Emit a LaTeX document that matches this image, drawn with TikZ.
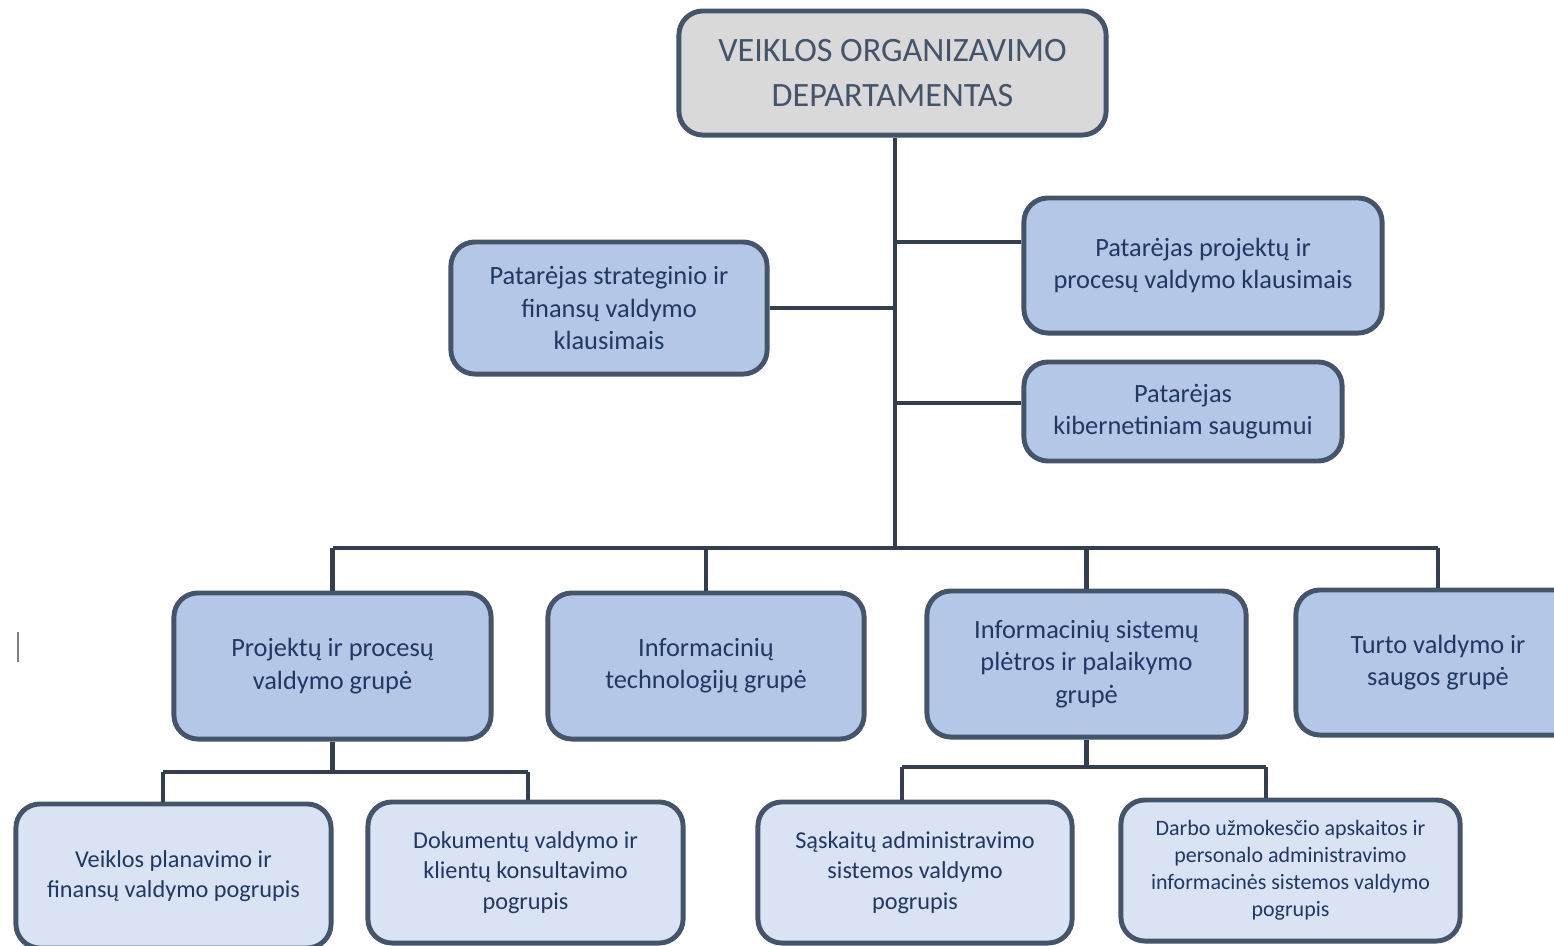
\documentclass[tikz,border=0pt]{standalone}
\usepackage{fontspec}
\setmainfont{Carlito}
\usepackage{tikz}

\definecolor{edgegray}{HTML}{44546A}
\definecolor{linedark}{HTML}{333F50}
\definecolor{topfill}{HTML}{D9D9D9}
\definecolor{grpfill}{HTML}{B4C7E7}
\definecolor{subfill}{HTML}{DAE3F3}
\definecolor{navytext}{HTML}{203864}

\begin{document}
\begin{tikzpicture}[x=0.01cm,y=-0.01cm,
	box/.style={draw=edgegray,line width=1.4pt,rounded corners=0.24cm,inner sep=0pt,align=center},
	topbox/.style={box,fill=topfill,text=edgegray,font=\fontsize{9.7}{12.8}\selectfont},
	grpbox/.style={box,fill=grpfill,text=navytext,font=\fontsize{7.5}{9.2}\selectfont},
	subbox/.style={box,fill=subfill,text=navytext,font=\fontsize{6.9}{8.6}\selectfont},
	wire/.style={draw=linedark,line width=1.4pt}]
	\clip (0,0) rectangle (1554,945);
	% department
	\node[topbox,minimum width=4.27cm,minimum height=1.24cm] (dept) at (892.5,73) {VEIKLOS ORGANIZAVIMO\\DEPARTAMENTAS};
	% advisers
	\node[grpbox,minimum width=3.16cm,minimum height=1.32cm] (advfin) at (609,308) {Patarėjas strateginio ir\\finansų valdymo\\klausimais};
	\node[grpbox,minimum width=3.58cm,minimum height=1.35cm] (advproj) at (1203,265.5) {Patarėjas projektų ir\\procesų valdymo klausimais};
	\node[grpbox,minimum width=3.18cm,minimum height=0.99cm] (advcyb) at (1183,411.5) {Patarėjas\\kibernetiniam saugumui};
	% groups
	\node[grpbox,minimum width=3.17cm,minimum height=1.46cm] (grpproj) at (332.5,666) {Projektų ir procesų\\valdymo grupė};
	\node[grpbox,minimum width=3.16cm,minimum height=1.46cm] (grpit) at (706,666) {Informacinių\\technologijų grupė};
	\node[grpbox,minimum width=3.19cm,minimum height=1.46cm] (grpis) at (1086.5,664) {Informacinių sistemų\\plėtros ir palaikymo\\grupė};
	\node[grpbox,minimum width=2.84cm,minimum height=1.45cm] (grpturt) at (1438,662.5) {Turto valdymo ir\\saugos grupė};
	% subgroups
	\node[subbox,minimum width=3.15cm,minimum height=1.44cm] (subplan) at (173.5,876) {Veiklos planavimo ir\\finansų valdymo pogrupis};
	\node[subbox,minimum width=3.15cm,minimum height=1.41cm] (subdoc) at (525.5,872.5) {Dokumentų valdymo ir\\klientų konsultavimo\\pogrupis};
	\node[subbox,minimum width=3.14cm,minimum height=1.41cm] (subsask) at (915,872.5) {Sąskaitų administravimo\\sistemos valdymo\\pogrupis};
	\node[subbox,minimum width=3.39cm,minimum height=1.41cm,font=\fontsize{6.25}{7.7}\selectfont] (subdarb) at (1290.5,870.5) {Darbo užmokesčio apskaitos ir\\personalo administravimo\\informacinės sistemos valdymo\\pogrupis};
	% draw trunk and branches
	\coordinate (bus) at (895,548);
	\coordinate (kproj) at (895,242);
	\coordinate (kcyb) at (895,403);
	\draw[wire] (dept.south -| bus) -- (bus);
	\draw[wire] (advfin.east) -- (advfin.east -| bus);
	\draw[wire] (kproj) -- (kproj -| advproj.west);
	\draw[wire] (kcyb) -- (kcyb -| advcyb.west);
	\draw[wire] (bus -| grpproj.north) -- (bus -| grpturt.north);
	\foreach \g in {grpproj,grpit,grpis,grpturt}
	\draw[wire] (bus -| \g.north) -- (\g.north);
	% draw subgroup links
	\coordinate (dplan) at (163,772);
	\coordinate (ddoc) at (528,772);
	\coordinate (dsask) at (902,767);
	\coordinate (ddarb) at (1266,767);
	\draw[wire] (grpproj.south) -- (grpproj.south |- dplan);
	\draw[wire] (dplan) -- (ddoc);
	\draw[wire] (dplan) -- (dplan |- subplan.north);
	\draw[wire] (ddoc) -- (ddoc |- subdoc.north);
	\draw[wire] (grpis.south) -- (grpis.south |- dsask);
	\draw[wire] (dsask) -- (ddarb);
	\draw[wire] (dsask) -- (dsask |- subsask.north);
	\draw[wire] (ddarb) -- (ddarb |- subdarb.north);
	% text cursor
	\draw[gray,thin] (18,632) -- (18,662);
\end{tikzpicture}
\end{document}
